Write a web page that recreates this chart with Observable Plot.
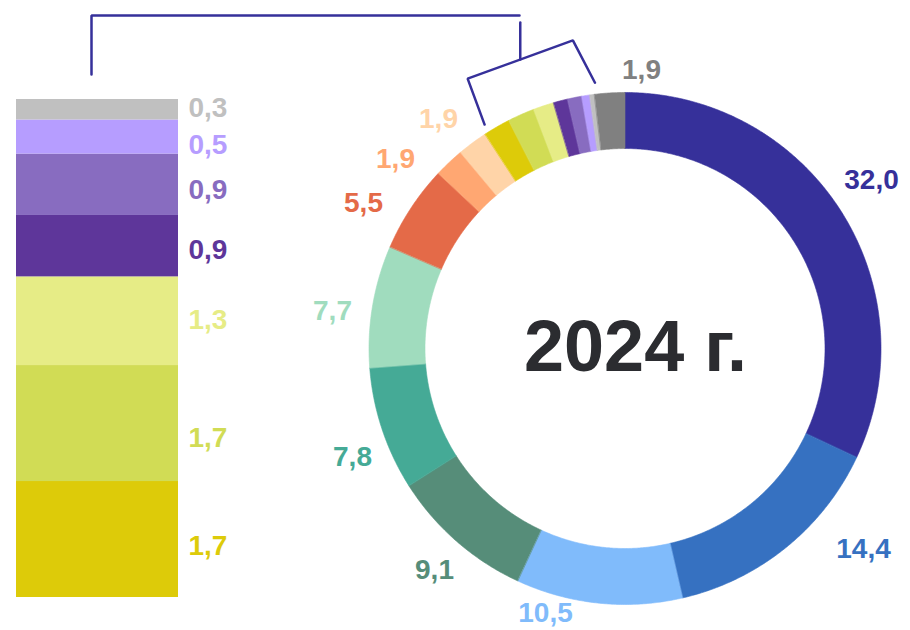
<!DOCTYPE html>
<html>
<head>
<meta charset="utf-8">
<script src="https://cdn.jsdelivr.net/npm/d3@7"></script>
<script src="https://cdn.jsdelivr.net/npm/@observablehq/plot@0.6"></script>
<style>
  html, body { margin: 0; padding: 0; background: #ffffff; }
  svg { display: block; }
</style>
</head>
<body>
<div id="chart"></div>
<script>
// ---------- DATA ----------
const segmentValues = [32.0, 14.4, 10.5, 9.1, 7.8, 7.7, 5.5, 1.9, 1.9, 1.7, 1.7, 1.3, 0.9, 0.9, 0.5, 0.3, 1.9];
const segmentColors = ["#36309A", "#3671C1", "#80BBFB", "#568D79", "#45AA96", "#A0DCBE", "#E46A48",
  "#FFA772", "#FFD4A8", "#DDCB09", "#D1DC55", "#E6EC86", "#5E369A", "#886CC0", "#B69DFF", "#C0C0C0", "#808080"];
const detailIndices = [9, 10, 11, 12, 13, 14, 15]; // small segments expanded in the left bar (bottom to top)
const centerTitle = "2024 г.";

// ---------- LAYOUT ----------
const W = 910, H = 630;
const cx = 625, cy = 348.5, rOuter = 256, rInner = 200;
const donutLabelPos = { 0: [871, 180], 1: [863, 549], 2: [545, 613], 3: [434, 570], 4: [352, 457],
  5: [332, 311], 6: [363, 203], 7: [395, 159], 8: [438, 119], 16: [641, 70] };
const barLeft = 16, barRight = 178, barBottom = 597, barTop = 99, barLabelX = 188;
const barLabelNudge = [7, 14, -1, 4, 5.5, 8, -2];
const bracketColor = "#36309A";
const font = "'Liberation Sans', Arial, Helvetica, sans-serif";
const labelSize = 28;

const fmt = v => v.toFixed(1).replace(".", ",");
const total = d3.sum(segmentValues);
const pt = (deg, r) => { const a = deg * Math.PI / 180; return [cx + r * Math.sin(a), cy - r * Math.cos(a)]; };

// angles
let cum = 0;
const segs = segmentValues.map((v, i) => {
  const a0 = cum / total * 360; cum += v; const a1 = cum / total * 360;
  return { i, v, a0, a1, color: segmentColors[i] };
});

// ring polygons for Plot.area (outer edge = x1,y1 ; inner edge = x2,y2)
const ring = [];
for (const s of segs) {
  const n = Math.max(2, Math.ceil((s.a1 - s.a0) / 0.4));
  for (let k = 0; k <= n; k++) {
    const a = s.a0 + (s.a1 - s.a0) * k / n;
    const [ox, oy] = pt(a, rOuter), [ix, iy] = pt(a, rInner);
    ring.push({ id: s.i, color: s.color, ox, oy, ix, iy });
  }
}

// donut labels
const donutLabels = Object.keys(donutLabelPos).map(k => ({
  x: donutLabelPos[k][0], y: donutLabelPos[k][1], text: fmt(segmentValues[+k]), color: segmentColors[+k]
}));

// stacked detail bar
const detailTotal = d3.sum(detailIndices, i => segmentValues[i]);
const unit = (barBottom - barTop) / detailTotal;
let c2 = 0;
const bars = detailIndices.map((idx, j) => {
  const y1 = barBottom - c2 * unit; c2 += segmentValues[idx]; const y2 = barBottom - c2 * unit;
  return { y1, y2, color: segmentColors[idx], text: fmt(segmentValues[idx]), ly: (y1 + y2) / 2 + barLabelNudge[j] };
});

// bracket over the small segments
const aStart = segs[detailIndices[0]].a0, aEnd = segs[detailIndices[detailIndices.length - 1]].a1;
const aMid = (aStart + aEnd) / 2;
const [mx, my] = pt(aMid, 308);
const tang = [Math.cos(aMid * Math.PI / 180), Math.sin(aMid * Math.PI / 180)];
const half = 56;
const cL = [mx - tang[0] * half, my - tang[1] * half];
const cR = [mx + tang[0] * half, my + tang[1] * half];
const legL = pt(aStart + 1, 265), legR = pt(aEnd + 0.3, 268);
const bracket = [
  { id: "b", x: legL[0], y: legL[1] }, { id: "b", x: cL[0], y: cL[1] },
  { id: "b", x: cR[0], y: cR[1] }, { id: "b", x: legR[0], y: legR[1] },
  { id: "s", x: mx, y: my }, { id: "s", x: mx, y: 22 },
  { id: "t", x: 519, y: 15 }, { id: "t", x: (barLeft + barRight) / 2 - 6, y: 15 },
  { id: "t", x: (barLeft + barRight) / 2 - 6, y: 74 }
];

const chart = Plot.plot({
  width: W, height: H, margin: 0,
  x: { domain: [0, W], range: [0, W], axis: null },
  y: { domain: [0, H], range: [0, H], axis: null },
  color: { type: "identity" },
  style: { fontFamily: font, background: "#ffffff", overflow: "visible" },
  marks: [
    Plot.area(ring, { x1: "ox", y1: "oy", x2: "ix", y2: "iy", z: "id", fill: "color", stroke: "color", strokeWidth: 0.6 }),
    Plot.rect(bars, { x1: barLeft, x2: barRight, y1: "y1", y2: "y2", fill: "color" }),
    Plot.text(bars, { x: barLabelX, y: "ly", text: "text", fill: "color", textAnchor: "start", fontSize: labelSize, fontWeight: "bold" }),
    Plot.text(donutLabels, { x: "x", y: "y", text: "text", fill: "color", fontSize: labelSize, fontWeight: "bold" }),
    Plot.text([centerTitle], { x: cx + 10, y: cy - 1, text: d => d, fill: "#2B2C30", fontSize: 72, fontWeight: "bold" }),
    Plot.line(bracket, { x: "x", y: "y", z: "id", stroke: bracketColor, strokeWidth: 2.5, strokeLinejoin: "miter" })
  ]
});
document.getElementById("chart").appendChild(chart);
</script>
</body>
</html>
